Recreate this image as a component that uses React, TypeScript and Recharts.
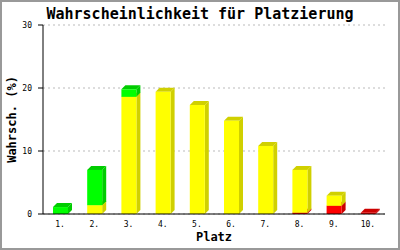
import React from 'react';
import { BarChart, Bar, XAxis, YAxis, CartesianGrid } from 'recharts';

const categories = ['1.', '2.', '3.', '4.', '5.', '6.', '7.', '8.', '9.', '10.'];
const redValues = [0, 0, 0, 0, 0, 0, 0, 0.2, 1.3, 0.2];
const yellowValues = [0, 1.4, 18.6, 19.4, 17.3, 14.8, 10.8, 6.8, 1.6, 0];
const greenValues = [1.1, 5.6, 1.2, 0, 0, 0, 0, 0, 0, 0];
const yTicks = [0, 10, 20, 30];

const data = categories.map((c, i) => ({
  name: c,
  red: redValues[i],
  yellow: yellowValues[i],
  green: greenValues[i],
}));

const MONO = "'DejaVu Sans Mono', monospace";

const Box3D = (props: any) => {
  const { x, y, width, height, front, side } = props;
  if (!height || height <= 0 || !width) return <g />;
  const d = 4;
  const top = `${x},${y} ${x + width},${y} ${x + width + d},${y - d} ${x + d},${y - d}`;
  const right = `${x + width},${y} ${x + width + d},${y - d} ${x + width + d},${y + height - d} ${x + width},${y + height}`;
  return (
    <g>
      <polygon points={right} fill={side} />
      <polygon points={top} fill={side} />
      <rect x={x} y={y} width={width} height={height} fill={front} />
    </g>
  );
};

const XTick = (props: any) => {
  const { x, y, payload } = props;
  return (
    <text x={x} y={Number(y) + 11} textAnchor="middle" fontFamily={MONO} fontSize={8} fill="#000">
      {payload.value}
    </text>
  );
};

export default function App() {
  return (
    <div
      style={{
        position: 'absolute',
        left: 0,
        top: 0,
        width: 400,
        height: 250,
        boxSizing: 'border-box',
        border: '2px solid #999',
        background: '#fff',
      }}
    >
      <div
        style={{
          position: 'absolute',
          left: -2,
          top: 3,
          width: 400,
          textAlign: 'center',
          fontFamily: MONO,
          fontWeight: 'bold',
          fontSize: 15,
          lineHeight: '18px',
          color: '#000',
        }}
      >
        Wahrscheinlichkeit für Platzierung
      </div>
      <div style={{ position: 'absolute', left: -2, top: -2 }}>
        <BarChart width={400} height={250} data={data} margin={{ top: 25, right: 15, bottom: 0, left: 0 }} barCategoryGap={0}>
          <CartesianGrid yAxisId="left" horizontal vertical={false} stroke="#bbb" strokeDasharray="2 3" />
          <XAxis
            dataKey="name"
            height={36}
            tickLine={false}
            tickSize={0}
            tickMargin={2}
            axisLine={{ stroke: '#000' }}
            tick={<XTick />}
            interval={0}
            label={{
              content: (p: any) => {
                const vb = p.viewBox;
                return (
                  <text x={vb.x + vb.width / 2} y={vb.y + 27} textAnchor="middle" fontFamily={MONO} fontWeight="bold" fontSize={12} fill="#000">
                    Platz
                  </text>
                );
              },
            }}
          />
          <YAxis
            yAxisId="left"
            width={43}
            domain={[0, 30]}
            ticks={yTicks}
            tickLine={{ stroke: '#000' }}
            tickSize={5}
            tickMargin={6}
            axisLine={{ stroke: '#000' }}
            tick={{ fontFamily: MONO, fontSize: 8, fill: '#000' }}
            label={{
              content: (p: any) => {
                const vb = p.viewBox;
                const cx = vb.x + 12;
                const cy = vb.y + vb.height / 2;
                return (
                  <text x={cx} y={cy} transform={`rotate(-90, ${cx}, ${cy})`} textAnchor="middle" dominantBaseline="central" fontFamily={MONO} fontWeight="bold" fontSize={12} fill="#000">
                    Wahrsch. (%)
                  </text>
                );
              },
            }}
          />
          <YAxis yAxisId="inner" orientation="left" mirror width={0} domain={[0, 30]} ticks={yTicks} tick={false} tickSize={4} tickLine={{ stroke: '#000' }} axisLine={false} />
          <YAxis yAxisId="right" orientation="right" width={0} tick={false} tickLine={false} axisLine={{ stroke: '#000' }} domain={[0, 30]} />
          <Bar yAxisId="left" dataKey="red" stackId="a" barSize={15} isAnimationActive={false} shape={(p: any) => <Box3D {...p} front="#ff0000" side="#cc0000" />} />
          <Bar yAxisId="left" dataKey="yellow" stackId="a" barSize={15} isAnimationActive={false} shape={(p: any) => <Box3D {...p} front="#ffff00" side="#d0d000" />} />
          <Bar yAxisId="left" dataKey="green" stackId="a" barSize={15} isAnimationActive={false} shape={(p: any) => <Box3D {...p} front="#00ff00" side="#00cc00" />} />
        </BarChart>
      </div>
    </div>
  );
}
